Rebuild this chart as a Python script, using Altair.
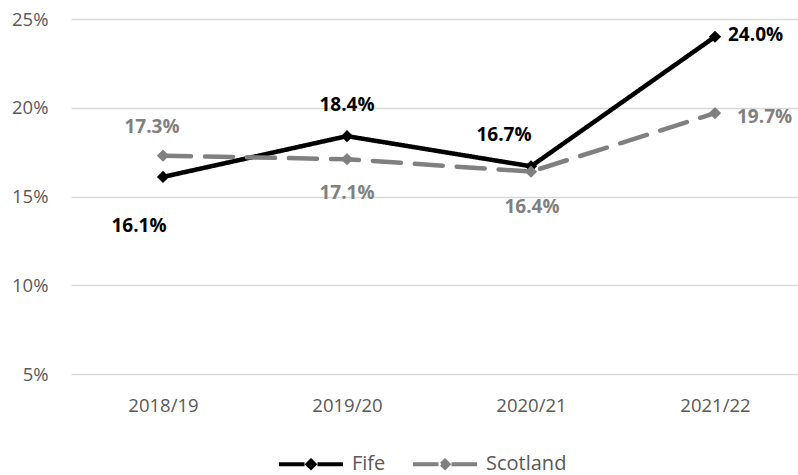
import altair as alt
import pandas as pd

years = ["2018/19", "2019/20", "2020/21", "2021/22"]
fife = [16.1, 18.4, 16.7, 24.0]
scotland = [17.3, 17.1, 16.4, 19.7]
series_names = ["Fife", "Scotland"]
series_colors = ["#000000", "#808080"]
y_ticks = [5, 10, 15, 20, 25]

rows = []
for name, vals in zip(series_names, [fife, scotland]):
    for i, (yr, v) in enumerate(zip(years, vals)):
        rows.append({"series": name, "year": yr, "idx": i, "value": v, "label": f"{v:.1f}%"})
df = pd.DataFrame(rows)

FONT = "Open Sans"

# label offsets (style): (series, index) -> (dx, dy, align)
label_style = {
    ("Fife", 0): (-24, 49, "center"),
    ("Fife", 1): (0, -31, "center"),
    ("Fife", 2): (-27, -31, "center"),
    ("Fife", 3): (13, -2, "left"),
    ("Scotland", 0): (-11, -29, "center"),
    ("Scotland", 1): (0, 34, "center"),
    ("Scotland", 2): (1, 35, "center"),
    ("Scotland", 3): (22, 4, "left"),
}

year_list_expr = "[" + ",".join(f"'{y}'" for y in years) + "]"

x_enc = alt.X("idx:Q", title=None,
              scale=alt.Scale(domain=[-0.5, 3.4511], nice=False, zero=False),
              axis=alt.Axis(values=list(range(len(years))),
                            labelExpr=f"{year_list_expr}[datum.value]",
                            labelAngle=0, domain=False, ticks=False, grid=False,
                            labelFont=FONT, labelFontSize=18.5, labelColor="#595959",
                            labelPadding=22))
y_enc = alt.Y("value:Q", title=None,
              scale=alt.Scale(domain=[5, 25], nice=False, zero=False),
              axis=alt.Axis(values=y_ticks, labelExpr="datum.value + '%'", domain=False,
                            ticks=False, gridColor="#d9d9d9", gridWidth=1.3,
                            labelFont=FONT, labelFontSize=18.5, labelColor="#595959",
                            labelPadding=23))
color_scale = alt.Scale(domain=series_names, range=series_colors)

# legend symbol: diamond, filler strokes (lie on the line), left line, filler, right line
legend_path = ("M-0.109375,0L0,-0.109375L0.109375,0L0,0.109375Z"
               "M-1,0L-0.30625,0"
               "M-1,0L-0.203125,0"
               "M0.203125,0L0.71875,0"
               "M0.203125,0L1,0")

line_leg = alt.Legend(title=None, orient="none", legendX=206, legendY=411,
                      direction="horizontal", symbolType=legend_path, symbolSize=4096,
                      symbolStrokeWidth=4,
                      labelFont=FONT, labelFontSize=20, labelColor="#595959",
                      labelOffset=7, columnPadding=19)

base = alt.Chart(df)

lines = base.mark_line(strokeWidth=4.5, strokeCap="round", strokeJoin="round").encode(
    x=x_enc, y=y_enc,
    color=alt.Color("series:N", scale=color_scale, legend=line_leg),
    strokeDash=alt.StrokeDash("series:N",
                              scale=alt.Scale(domain=series_names, range=[[1, 0], [28, 14]]),
                              legend=line_leg),
    detail="series:N",
)

points = base.mark_point(shape="diamond", filled=True, size=150, opacity=1).encode(
    x=x_enc, y=y_enc,
    color=alt.Color("series:N", scale=color_scale, legend=None),
)

text_layers = []
for (s, i), (dx, dy, al) in label_style.items():
    col = series_colors[series_names.index(s)]
    t = base.transform_filter(
        (alt.datum.series == s) & (alt.datum.idx == i)
    ).mark_text(font=FONT, fontSize=19, fontWeight="bold", color=col,
                dx=dx, dy=dy, align=al, baseline="middle").encode(
        x=x_enc, y=y_enc, text="label:N")
    text_layers.append(t)

chart = alt.layer(lines, points, *text_layers).properties(
    width=727, height=355,
    padding={"left": 71, "top": 19, "right": 0, "bottom": 101},
    autosize=alt.AutoSizeParams(type="none"),
    background="white",
).configure_view(stroke=None)

chart.save("out.html", embed_options={"renderer": "svg", "actions": False})
